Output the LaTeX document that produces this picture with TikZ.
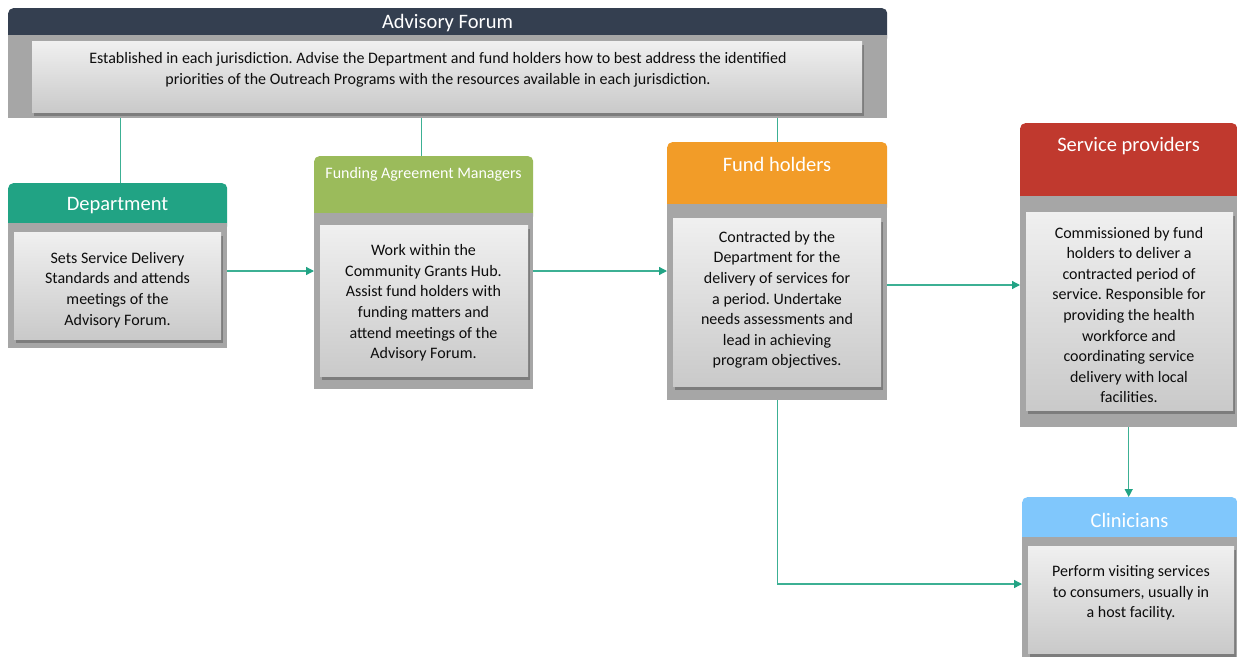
\documentclass[tikz,border=0pt]{standalone}
\usepackage{fontspec}
\setmainfont{Carlito}
\usepackage{xcolor,tikz}
\usetikzlibrary{positioning,shadows,arrows.meta}
\definecolor{advcol}{RGB}{52,63,80}
\definecolor{depcol}{RGB}{33,163,132}
\definecolor{famcol}{RGB}{155,187,91}
\definecolor{fhcol}{RGB}{242,156,40}
\definecolor{spcol}{RGB}{192,57,46}
\definecolor{clincol}{RGB}{128,199,252}
\definecolor{panelgray}{RGB}{166,166,166}
\definecolor{linkcol}{RGB}{60,176,148}
\definecolor{tipcol}{RGB}{33,163,132}
\tikzset{>={Triangle[length=8pt,width=8pt,color=tipcol]}}
\tikzset{
  head/.style={rounded corners=5pt,anchor=north west,inner sep=0pt},
  panel/.style={fill=panelgray,anchor=north west,inner sep=0pt},
  card/.style={anchor=north west,inner sep=0pt,top color=black!6,bottom color=black!21,
    drop shadow={shadow xshift=2pt,shadow yshift=-4pt,opacity=.45,fill=black!70}},
  title/.style={text=white,font=\fontsize{20.5}{24}\selectfont},
  body/.style={align=center,text=black!95,font=\fontsize{16}{20.6}\selectfont},
  link/.style={draw=linkcol,line width=1.3pt},
  arrow/.style={link,->}
}
\frenchspacing

\begin{document}
\begin{tikzpicture}[x=1pt,y=-1pt]
\useasboundingbox[fill=white] (0,0) rectangle (1237,657);

% Advisory Forum
\node[head,fill=advcol,minimum width=879pt,minimum height=35pt] (advHead) at (8,8) {};
\node[panel,minimum width=879pt,minimum height=83pt] (adv) at (8,35) {};
\node[card,minimum width=830pt,minimum height=71pt] (advCard) at (32,41) {};
\node[title] (advTitle) at (447.5,23.5) {Advisory Forum};
\node[body] (advTxt) at (438,70) {Established in each jurisdiction. Advise the Department and fund holders how to best address the identified\\priorities of the Outreach Programs with the resources available in each jurisdiction.};

% Department
\node[head,fill=depcol,minimum width=219pt,minimum height=48pt] (depHead) at (8,183) {};
\node[panel,minimum width=219pt,minimum height=125pt] (dep) at (8,223) {};
\node[card,minimum width=207pt,minimum height=107pt] (depCard) at (14,232) {};
\node[title] (depTitle) at (117.5,205.5) {Department};
\node[body] (depTxt) at (117.5,290) {Sets Service Delivery\\Standards and attends\\meetings of the\\Advisory Forum.};

% Funding Agreement Managers
\node[head,fill=famcol,minimum width=219pt,minimum height=65pt] (famHead) at (314,156) {};
\node[panel,minimum width=219pt,minimum height=176pt] (fam) at (314,213) {};
\node[card,minimum width=208pt,minimum height=151pt] (famCard) at (320,225) {};
\node[title,font=\fontsize{16}{19}\selectfont] (famTitle) at (423.5,174.5) {Funding Agreement Managers};
\node[body] (famTxt) at (423.5,303) {Work within the\\Community Grants Hub.\\Assist fund holders with\\funding matters and\\attend meetings of the\\Advisory Forum.};

% Fund holders
\node[head,fill=fhcol,minimum width=220pt,minimum height=70pt] (fhHead) at (667,142) {};
\node[panel,minimum width=220pt,minimum height=196pt] (fh) at (667,204) {};
\node[card,minimum width=208pt,minimum height=168pt] (fhCard) at (673,218) {};
\node[title] (fhTitle) at (777,164) {Fund holders};
\node[body] (fhTxt) at (777,300) {Contracted by the\\Department for the\\delivery of services for\\a period. Undertake\\needs assessments and\\lead in achieving\\program objectives.};

% Service providers
\node[head,fill=spcol,minimum width=217pt,minimum height=81pt] (spHead) at (1020,123) {};
\node[panel,minimum width=217pt,minimum height=231pt] (sp) at (1020,196) {};
\node[card,minimum width=207pt,minimum height=198pt] (spCard) at (1026,212) {};
\node[title] (spTitle) at (1128.5,146) {Service providers};
\node[body] (spTxt) at (1129,315) {Commissioned by fund\\holders to deliver a\\contracted period of\\service. Responsible for\\providing the health\\workforce and\\coordinating service\\delivery with local\\facilities.};

% Clinicians
\node[head,fill=clincol,minimum width=215pt,minimum height=48pt] (clinHead) at (1022,497) {};
\node[panel,minimum width=215pt,minimum height=120pt] (clin) at (1022,537) {};
\node[card,minimum width=206pt,minimum height=107pt] (clinCard) at (1028,546) {};
\node[title] (clinTitle) at (1129.5,520) {Clinicians};
\node[body] (clinTxt) at (1131,593) {Perform visiting services\\to consumers, usually in\\a host facility.};

% connectors
\coordinate (r1) at (0,271);
\coordinate (r2) at (0,285);
\coordinate (r3) at (0,584);
\draw[link] (adv.south -| depHead.north) ++(2.5,0) -- ([xshift=2.5pt]depHead.north);
\draw[link] (adv.south -| famHead.north) ++(-2.5,0) -- ([xshift=-2.5pt]famHead.north);
\draw[link] (adv.south -| fhHead.north) -- (fhHead.north);
\draw[arrow] (dep.east |- r1) -- (fam.west |- r1);
\draw[arrow] (fam.east |- r1) -- (fh.west |- r1);
\draw[arrow] (fh.east |- r2) -- (sp.west |- r2);
\draw[arrow] (sp.south) -- (sp.south |- clinHead.north);
\draw[arrow] (fh.south) |- (clin.west |- r3);
\end{tikzpicture}
\end{document}
